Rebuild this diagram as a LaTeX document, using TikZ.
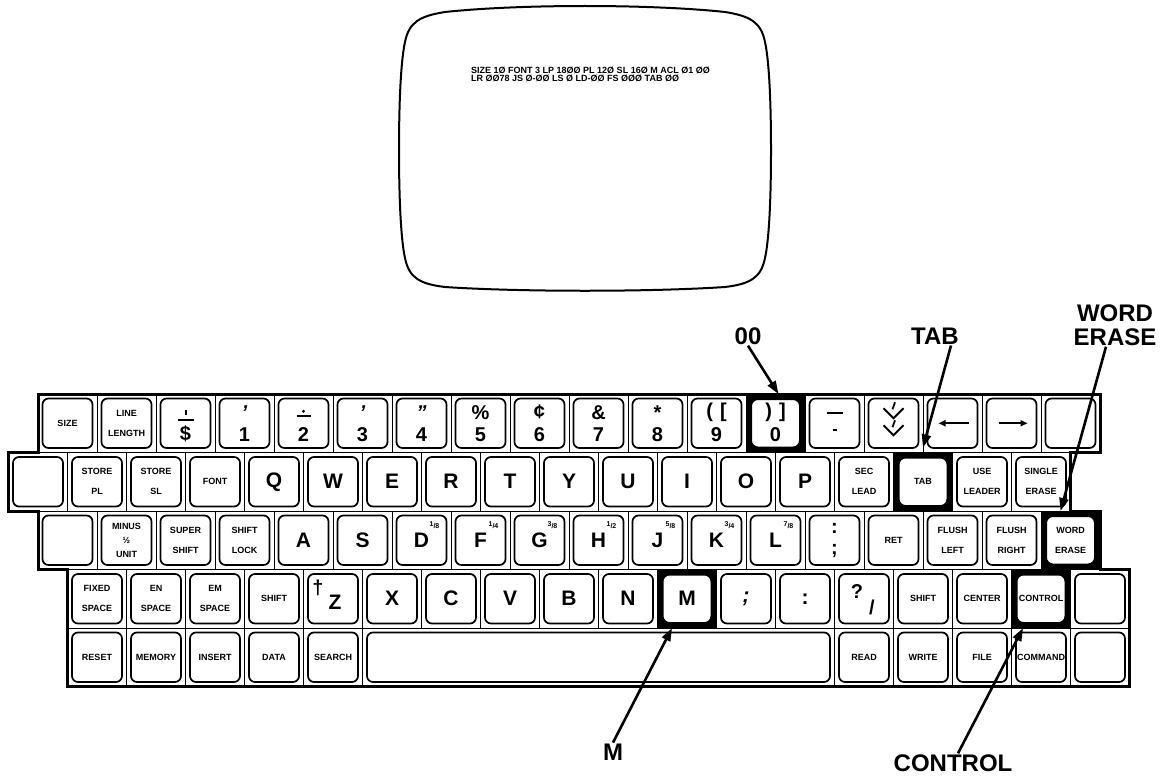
\documentclass[tikz,border=0pt]{standalone}
\usepackage{fontspec}
\setmainfont{Liberation Sans}
\usetikzlibrary{arrows.meta}
\definecolor{kbInk}{RGB}{0,0,0}
\newcommand\kfSmall{\fontsize{9}{20}\selectfont\bfseries}
\newcommand\kfTight{\fontsize{9}{14}\selectfont\bfseries}
\newcommand\kfBig{\fontsize{21}{21}\selectfont\bfseries}
\tikzset{
  cellbox/.style={draw=kbInk,line width=0.7pt,minimum width=59pt,minimum height=58.5pt,inner sep=0pt,outer sep=0pt},
  keycap/.style={draw=kbInk,line width=1.7pt,rounded corners=6pt,minimum width=50pt,minimum height=49.5pt,inner sep=0pt,align=center,text=kbInk},
  keysym/.style={font=\fontsize{20}{20}\selectfont\bfseries,inner sep=0pt},
  keyfrac/.style={font=\fontsize{7}{7}\selectfont\bfseries,inner sep=0pt},
  callout/.style={font=\fontsize{24}{24}\selectfont\bfseries,inner sep=1pt},
  pointer/.style={line width=2.6pt,-{Triangle[length=13pt,width=9pt]}},
  screentext/.style={font=\fontsize{9}{9}\selectfont\bfseries,inner sep=0pt,anchor=west},
}

\begin{document}
\begin{tikzpicture}[x=1pt,y=-1pt]
  \useasboundingbox (0,0) rectangle (1166,776);

  % display
  \draw[line width=2pt,kbInk] (399,150) .. controls (399,100) and (401,60) .. (405,42)
    .. controls (409,22) and (420,16) .. (445,12) .. controls (520,4) and (650,4) .. (725,12)
    .. controls (750,16) and (761,22) .. (765,42) .. controls (769,60) and (771,100) .. (771,150)
    .. controls (771,200) and (769,240) .. (765,258) .. controls (761,278) and (750,284) .. (725,287)
    .. controls (650,292) and (520,292) .. (445,287) .. controls (420,284) and (409,278) .. (405,258)
    .. controls (401,240) and (399,200) .. (399,150) -- cycle;
  \node[screentext] (scr1) at (471,70) {SIZE 1Ø FONT 3 LP 18ØØ PL 12Ø SL 16Ø M ACL Ø1 ØØ};
  \node[screentext] (scr2) at (471,78) {LR ØØ78 JS Ø-ØØ LS Ø LD-ØØ FS ØØØ TAB ØØ};

  % row 1
  \foreach \i in {0,...,17} {
    \node[cellbox] (c1-\i) at ({67.5+59*\i},423.25) {};
    \node[keycap] (k1-\i) at (c1-\i) {};
  }
  \node[font=\kfSmall,align=center] at (k1-0) {SIZE};
  \node[font=\kfSmall,align=center] at (k1-1) {LINE\\LENGTH};
  \foreach \up/\dn [count=\i from 3] in {{\itshape\char39}/1, {}/2, {\itshape\char39}/3, {\itshape\char39\char39}/4, \%/5, ¢/6, \&/7, */8, {(\hspace{7pt}[}/9, {)\hspace{7pt}]}/0} {
    \node[keysym] at ([yshift=11pt]k1-\i) {\up};
    \node[keysym] at ([yshift=-11pt]k1-\i) {\dn};
  }
  \draw[line width=2pt] ([yshift=13pt]k1-2.center) -- ([yshift=8pt]k1-2.center);
  \draw[line width=1.8pt] ([shift={(-8pt,3pt)}]k1-2.center) -- ([shift={(8pt,3pt)}]k1-2.center);
  \node[keysym] at ([yshift=-11pt]k1-2) {\$};
  \fill ([yshift=12pt]k1-4.center) circle (1.7pt);
  \draw[line width=1.8pt] ([shift={(-7pt,7pt)}]k1-4.center) -- ([shift={(7pt,7pt)}]k1-4.center);
  \draw[line width=2pt] ([shift={(-8pt,10pt)}]k1-13.center) -- ([shift={(8pt,10pt)}]k1-13.center);
  \draw[line width=2pt] ([shift={(-2pt,-7pt)}]k1-13.center) -- ([shift={(2pt,-7pt)}]k1-13.center);
  \draw[line width=1.8pt] ([shift={(-10pt,15pt)}]k1-14.center) -- ([shift={(0pt,5pt)}]k1-14.center) -- ([shift={(10pt,15pt)}]k1-14.center);
  \draw[line width=1.8pt] ([shift={(-10pt,-2pt)}]k1-14.center) -- ([shift={(0pt,-12pt)}]k1-14.center) -- ([shift={(10pt,-2pt)}]k1-14.center);
  \draw[line width=1.8pt] ([shift={(1.5pt,21pt)}]k1-14.center) -- ([shift={(-1pt,14pt)}]k1-14.center);
  \draw[line width=1.8pt] ([shift={(1.5pt,3pt)}]k1-14.center) -- ([shift={(-1pt,-4pt)}]k1-14.center);
  \draw[line width=1.8pt,-{Triangle[length=7pt,width=6pt]}] ([xshift=16pt]k1-15.center) -- ([xshift=-14pt]k1-15.center);
  \draw[line width=1.8pt,-{Triangle[length=7pt,width=6pt]}] ([xshift=-13pt]k1-16.center) -- ([xshift=16pt]k1-16.center);

  % row 2
  \foreach \f/\lab [count=\i from 0] in {\kfSmall/{}, \kfSmall/{STORE\\PL}, \kfSmall/{STORE\\SL}, \kfSmall/FONT,
      \kfBig/Q, \kfBig/W, \kfBig/E, \kfBig/R, \kfBig/T, \kfBig/Y, \kfBig/U, \kfBig/I, \kfBig/O, \kfBig/P,
      \kfSmall/{SEC\\LEAD}, \kfSmall/TAB, \kfSmall/{USE\\LEADER}, \kfSmall/{SINGLE\\ERASE}} {
    \node[cellbox] (c2-\i) at ({38+59*\i},481.75) {};
    \node[keycap,font=\f] (k2-\i) at (c2-\i) {\lab};
  }

  % row 3
  \foreach \f/\lab [count=\i from 0] in {\kfSmall/{}, \kfTight/{MINUS\\½\\UNIT}, \kfSmall/{SUPER\\SHIFT}, \kfSmall/{SHIFT\\LOCK},
      \kfBig/A, \kfBig/S, \kfBig/D, \kfBig/F, \kfBig/G, \kfBig/H, \kfBig/J, \kfBig/K, \kfBig/L,
      \kfSmall/{}, \kfSmall/RET, \kfSmall/{FLUSH\\LEFT}, \kfSmall/{FLUSH\\RIGHT}, \kfSmall/{WORD\\ERASE}} {
    \node[cellbox] (c3-\i) at ({67.5+59*\i},540.25) {};
    \node[keycap,font=\f] (k3-\i) at (c3-\i) {\lab};
  }
  \foreach \n/\d [count=\i from 6] in {1/8,1/4,3/8,1/2,5/8,3/4,7/8}
    \node[keyfrac] at ([shift={(13pt,15pt)}]k3-\i.center) {\raisebox{1.5pt}{\n}/\d};
  \node[keysym] at ([yshift=12pt]k3-13.center) {:};
  \node[keysym] at ([yshift=-11pt]k3-13.center) {;};

  % row 4
  \foreach \f/\lab [count=\i from 0] in {\kfSmall/{FIXED\\SPACE}, \kfSmall/{EN\\SPACE}, \kfSmall/{EM\\SPACE}, \kfSmall/SHIFT,
      \kfBig/{}, \kfBig/X, \kfBig/C, \kfBig/V, \kfBig/B, \kfBig/N, \kfBig/M, \kfBig/{\itshape;}, \kfBig/:,
      \kfBig/{}, \kfSmall/SHIFT, \kfSmall/CENTER, \kfSmall/CONTROL, \kfSmall/{}} {
    \node[cellbox] (c4-\i) at ({97+59*\i},598.75) {};
    \node[keycap,font=\f] (k4-\i) at (c4-\i) {\lab};
  }
  \node[keysym,font=\kfBig] at ([shift={(2pt,-4pt)}]k4-4.center) {Z};
  \node[keysym] at ([shift={(-15pt,11pt)}]k4-4.center) {†};
  \node[keysym] at ([shift={(-7pt,7pt)}]k4-13.center) {?};
  \node[keysym] at ([shift={(8pt,-9pt)}]k4-13.center) {/};

  % row 5
  \foreach \lab/\i in {RESET/0, MEMORY/1, INSERT/2, DATA/3, SEARCH/4, READ/13, WRITE/14, FILE/15, COMMAND/16, {}/17} {
    \node[cellbox] (c5-\i) at ({97+59*\i},657.25) {};
    \node[keycap,font=\kfSmall] (k5-\i) at (c5-\i) {\lab};
  }
  \node[cellbox,minimum width=472pt] (c5-sp) at (598.5,657.25) {};
  \node[keycap,minimum width=463pt] (k5-sp) at (c5-sp) {};

  % marked keys
  \foreach \c in {c1-12,c2-15,c3-17,c4-10,c4-16}
    \fill[kbInk,even odd rule] (\c.north west) rectangle (\c.south east)
      [rounded corners=6pt] ([shift={(6pt,-6pt)}]\c.north west) rectangle ([shift={(-6pt,6pt)}]\c.south east);

  \draw[line width=3pt,kbInk] (38,394) -- (1100,394) -- (1100,452.5) -- (1070.5,452.5) -- (1070.5,511)
    -- (1100,511) -- (1100,569.5) -- (1129.5,569.5) -- (1129.5,686.5) -- (67.5,686.5) -- (67.5,569.5)
    -- (38,569.5) -- (38,511) -- (8.5,511) -- (8.5,452.5) -- (38,452.5) -- cycle;

  % callouts
  \node[callout] (lab00) at (748,336) {00};
  \node[callout] (labtab) at (935,336) {TAB};
  \node[callout,align=center] (labword) at (1115,325) {WORD\\ERASE};
  \node[callout] (labm) at (613,752) {M};
  \node[callout] (labctl) at (953,763) {CONTROL};
  \draw[pointer] (lab00.south) -- ([xshift=3pt]c1-12.north);
  \draw[pointer] ([xshift=16pt]labtab.south) -- ([yshift=5pt]c2-15.north);
  \draw[pointer] ([xshift=-9pt]labword.south) -- ([xshift=-10pt]c3-17.north);
  \draw[pointer] (labm.north) -- ([xshift=-15pt]c4-10.south);
  \draw[pointer] ([xshift=5pt]labctl.north) -- ([xshift=-18pt]c4-16.south);
\end{tikzpicture}
\end{document}
